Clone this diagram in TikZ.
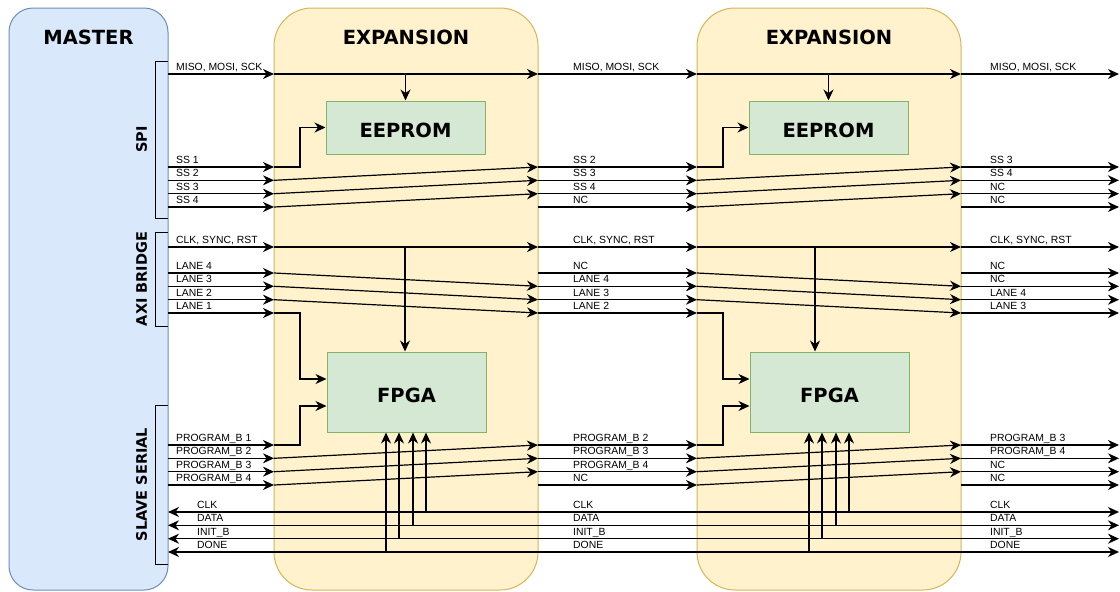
\documentclass[tikz,border=0pt]{standalone}
\usepackage{fontspec}
\setmainfont{Liberation Sans}
\newfontfamily\headfont{DejaVu Sans}
\usetikzlibrary{calc}
\usetikzlibrary{arrows.meta}
\usetikzlibrary{positioning}
\definecolor{MasterFill}{HTML}{DAE8FC}
\definecolor{MasterLine}{HTML}{6C8EBF}
\definecolor{ExpFill}{HTML}{FFF2CC}
\definecolor{ExpLine}{HTML}{D6B656}
\definecolor{ChipFill}{HTML}{D5E8D4}
\definecolor{ChipLine}{HTML}{82B366}
\tikzset{
  tip/.tip={Stealth[length=11pt,width=10pt,inset=3.5pt]},
  sig/.style={line width=1.2pt, -tip},
  bus/.style={line width=1.2pt, tip-tip},
  lbl/.style={anchor=base west, inner sep=0pt, font=\fontsize{10.4}{12}\selectfont},
  head/.style={font=\headfont\bfseries\fontsize{19.5}{23}\selectfont},
  side/.style={font=\headfont\bfseries\fontsize{14.5}{17}\selectfont, rotate=90},
  masterbox/.style={draw=MasterLine, fill=MasterFill, line width=1pt, rounded corners=24pt,
    minimum width=159pt, minimum height=582pt},
  expbox/.style={draw=ExpLine, fill=ExpFill, line width=1pt, rounded corners=38pt,
    minimum width=264pt, minimum height=582pt},
  chip/.style={draw=ChipLine, fill=ChipFill, line width=1pt, minimum width=159pt,
    minimum height=53pt, text height=19pt, text depth=0pt, head},
  bracket/.style={line width=1pt, black}
}
\begin{document}
\begin{tikzpicture}[x=1pt, y=-1pt]
  \useasboundingbox (0,0) rectangle (1120,592);

  % boards
  \node[masterbox] (master) at (88.5,299) {};
  \node[head] (master-title) at (88.5,37) {MASTER};
  \foreach \e/\cx in {1/406, 2/829}
  {
    \node[expbox] (exp\e) at (\cx,299) {};
    \node[head] (exp\e-title) at (\cx,37) {EXPANSION};
    \node[chip] (eeprom\e) at (\cx-0.5,127.5) {EEPROM};
    \node[chip, minimum height=80pt, text height=20pt] (fpga\e) at (\cx+0.5,392) {FPGA};
  }

  % bus groups on the master
  \foreach \n/\t/\b/\txt in {spi/61/218/SPI, axi/232/326/AXI BRIDGE, sls/405/564/SLAVE SERIAL}
  {
    \draw[bracket] (168,\t) -| (155,\b) -- (168,\b);
    \node[side] (\n-lab) at (141.5,{(\t+\b)/2}) {\txt};
  }

  % signal rows: name / y / labels left, middle, right
  \foreach \r/\y/\la/\lb/\lc in {
    spi/74/{MISO, MOSI, SCK}/{MISO, MOSI, SCK}/{MISO, MOSI, SCK},
    ss1/167/SS 1/SS 2/SS 3,
    ss2/180.3/SS 2/SS 3/SS 4,
    ss3/193.7/SS 3/SS 4/NC,
    ss4/207/SS 4/NC/NC,
    clk/247/{CLK, SYNC, RST}/{CLK, SYNC, RST}/{CLK, SYNC, RST},
    ln1/273/LANE 4/NC/NC,
    ln2/286.3/LANE 3/LANE 4/NC,
    ln3/299.7/LANE 2/LANE 3/LANE 4,
    ln4/313/LANE 1/LANE 2/LANE 3,
    pb1/445/PROGRAM\_B 1/PROGRAM\_B 2/PROGRAM\_B 3,
    pb2/458.3/PROGRAM\_B 2/PROGRAM\_B 3/PROGRAM\_B 4,
    pb3/471.7/PROGRAM\_B 3/PROGRAM\_B 4/NC,
    pb4/485/PROGRAM\_B 4/NC/NC}
  {
    \coordinate (m-\r) at (168,\y);
    \coordinate (i1-\r) at (274,\y);
    \coordinate (o1-\r) at (538,\y);
    \coordinate (i2-\r) at (697,\y);
    \coordinate (o2-\r) at (961,\y);
    \coordinate (e-\r) at (1119,\y);
    \draw[sig] (m-\r) -- (i1-\r);
    \draw[sig] (o1-\r) -- (i2-\r);
    \draw[sig] (o2-\r) -- (e-\r);
    \node[lbl] (la-\r) at (176,\y-3.5) {\la};
    \node[lbl] (lb-\r) at (573,\y-3.5) {\lb};
    \node[lbl] (lc-\r) at (990,\y-3.5) {\lc};
  }

  % slave serial return lines
  \foreach \k/\y/\txt in {1/512/CLK, 2/525.3/DATA, 3/538.7/INIT\_B, 4/552/DONE}
  {
    \coordinate (m-b\k) at (168,\y);
    \coordinate (e-b\k) at (1119,\y);
    \draw[bus] (m-b\k) -- (e-b\k);
    \node[lbl] (la-b\k) at (197,\y-3.5) {\txt};
    \node[lbl] (lb-b\k) at (573,\y-3.5) {\txt};
    \node[lbl] (lc-b\k) at (990,\y-3.5) {\txt};
  }

  % wiring inside each expansion
  \foreach \e/\dx/\tap in {1/0/405, 2/423/815}
  {
    \draw[sig] (i\e-spi) -- (o\e-spi);
    \draw[sig] (i\e-spi -| eeprom\e.north) -- (eeprom\e.north);
    \draw[sig] (i\e-ss1) -- ++(26,0) |- (eeprom\e.west);
    \foreach \k/\j in {2/1,3/2,4/3}
      \draw[sig] (i\e-ss\k) -- (o\e-ss\j);
    \draw[sig] (i\e-clk) -- (o\e-clk);
    \coordinate (tap\e) at (\tap,247);
    \draw[sig] (tap\e) -- (tap\e |- fpga\e.north);
    \foreach \k/\j in {1/2,2/3,3/4}
      \draw[sig] (i\e-ln\k) -- (o\e-ln\j);
    \draw[sig] (i\e-ln4) -- ++(26,0) |- ([yshift=13pt]fpga\e.west);
    \draw[sig] (i\e-pb1) -- ++(26,0) |- ([yshift=-14pt]fpga\e.west);
    \foreach \k/\j in {2/1,3/2,4/3}
      \draw[sig] (i\e-pb\k) -- (o\e-pb\j);
    \foreach \k/\tx/\ty in {1/426/512, 2/413/525.3, 3/399/538.7, 4/386/552}
    {
      \coordinate (bt\e-\k) at (\tx+\dx,\ty);
      \draw[sig] (bt\e-\k) -- (bt\e-\k |- fpga\e.south);
    }
  }

\end{tikzpicture}
\end{document}
